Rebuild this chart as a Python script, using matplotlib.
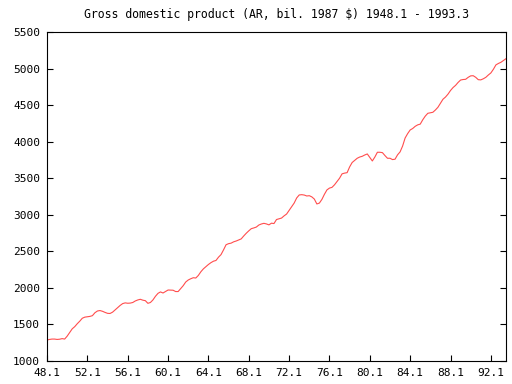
import matplotlib
matplotlib.use("Agg")
import matplotlib.pyplot as plt
import numpy as np

gdp = [
    1287, 1295, 1300, 1300,   # 1948
    1295, 1298, 1306, 1300,   # 1949
    1340, 1390, 1440, 1470,   # 1950
    1510, 1545, 1585, 1600,   # 1951
    1605, 1610, 1620, 1660,   # 1952
    1684, 1690, 1680, 1665,   # 1953
    1652, 1650, 1668, 1698,   # 1954
    1730, 1760, 1785, 1795,   # 1955
    1790, 1792, 1800, 1821,   # 1956
    1835, 1844, 1832, 1825,   # 1957
    1789, 1800, 1835, 1885,   # 1958
    1925, 1945, 1930, 1950,   # 1959
    1971, 1970, 1968, 1950,   # 1960
    1950, 1990, 2030, 2080,   # 1961
    2108, 2125, 2139, 2135,   # 1962
    2170, 2220, 2260, 2290,   # 1963
    2320, 2345, 2365, 2375,   # 1964
    2420, 2455, 2520, 2590,   # 1965
    2605, 2612, 2630, 2641,   # 1966
    2655, 2670, 2710, 2747,   # 1967
    2780, 2810, 2820, 2832,   # 1968
    2860, 2874, 2883, 2875,   # 1969
    2862, 2885, 2880, 2935,   # 1970
    2945, 2955, 2985, 3010,   # 1971
    3060, 3110, 3160, 3230,   # 1972
    3271, 3275, 3270, 3257,   # 1973
    3261, 3245, 3215, 3148,   # 1974
    3160, 3210, 3280, 3340,   # 1975
    3365, 3375, 3410, 3455,   # 1976
    3500, 3560, 3570, 3576,   # 1977
    3655, 3715, 3745, 3773,   # 1978
    3790, 3800, 3818, 3832,   # 1979
    3785, 3736, 3790, 3855,   # 1980
    3855, 3850, 3810, 3773,   # 1981
    3773, 3755, 3760, 3820,   # 1982
    3860, 3940, 4050, 4110,   # 1983
    4160, 4180, 4210, 4230,   # 1984
    4240, 4300, 4350, 4388,   # 1985
    4395, 4402, 4433, 4470,   # 1986
    4525, 4580, 4610, 4650,   # 1987
    4700, 4740, 4770, 4810,   # 1988
    4843, 4850, 4853, 4880,   # 1989
    4900, 4902, 4880, 4848,   # 1990
    4845, 4860, 4880, 4912,   # 1991
    4940, 4990, 5050, 5070,   # 1992
    5086, 5110, 5135,         # 1993
]
xlabels = ["48.1", "52.1", "56.1", "60.1", "64.1", "68.1", "72.1",
           "76.1", "80.1", "84.1", "88.1", "92.1"]
yticks = [1000, 1500, 2000, 2500, 3000, 3500, 4000, 4500, 5000, 5500]

plt.rcParams['font.family'] = 'DejaVu Sans Mono'

fig = plt.figure(figsize=(5.12, 3.84), dpi=100)
ax = fig.add_axes([47 / 512, 1 - 361 / 384, 459 / 512, 329 / 384])

x = np.arange(len(gdp))
ax.plot(x, gdp, color='#ff4d4d', linewidth=0.8)

ax.set_xlim(0, len(gdp) - 1)
ax.set_ylim(1000, 5500)
ax.set_xticks(np.arange(len(xlabels)) * 16)
ax.set_xticklabels(xlabels)
ax.set_yticks(yticks)
ax.tick_params(axis='both', direction='in', length=4.5, width=0.8,
               labelsize=8, pad=5)
ax.tick_params(axis='y', right=True)
for s in ax.spines.values():
    s.set_linewidth(0.8)

ax.set_title("Gross domestic product (AR, bil. 1987 $) 1948.1 - 1993.3",
             fontsize=8.3, pad=10)

fig.savefig("out.png", dpi=100)
